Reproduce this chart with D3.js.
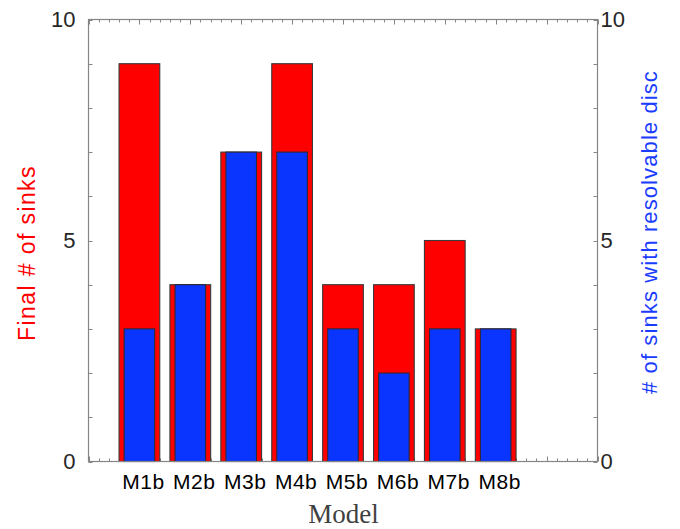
<!DOCTYPE html>
<html>
<head>
<meta charset="utf-8">
<script src="https://cdn.jsdelivr.net/npm/d3@7"></script>
<style>
  html, body { margin: 0; padding: 0; background: #fff; }
  svg { display: block; }
</style>
</head>
<body>
<svg id="chart" width="680" height="529"></svg>
<script>
// Sink counts per model
const models = ["M1b", "M2b", "M3b", "M4b", "M5b", "M6b", "M7b", "M8b"];
const finalSinks = [9, 4, 7, 9, 4, 4, 5, 3];
const sinksWithDisc = [3, 4, 7, 7, 3, 2, 3, 3];
const yTickLabels = [0, 5, 10];

const plotLeft = 88.5, plotRight = 597.5, plotTop = 19.5, plotBottom = 461.5;

const svg = d3.select("#chart");

// Models sit at integer positions 1..8 on a 0..10 axis
const x = d3.scaleLinear().domain([0, 10]).range([plotLeft, plotRight]);
const y = d3.scaleLinear().domain([0, 10]).range([plotBottom, plotTop]);

const axisColor = "#858585";
const textColor = "#262626";
const redFill = "#ff0000";
const blueFill = "#0a35ff";

const minorX = d3.range(0, 51).map(i => i / 5);
const minorY = d3.range(0, 11);

const g = svg.append("g");

// tick marks on all four sides, pointing inward
const ticks = g.append("g").attr("stroke", axisColor).attr("stroke-width", 1);
minorX.forEach(v => {
  const major = Math.abs(v - Math.round(v)) < 1e-9;
  const len = major ? 5 : 3;
  const px = Math.round(x(v)) + 0.5;
  ticks.append("line").attr("x1", px).attr("x2", px).attr("y1", plotTop).attr("y2", plotTop + len);
  ticks.append("line").attr("x1", px).attr("x2", px).attr("y1", plotBottom).attr("y2", plotBottom - len);
});
minorY.forEach(v => {
  const py = Math.round(y(v)) + 0.5;
  ticks.append("line").attr("x1", plotLeft).attr("x2", plotLeft + 4).attr("y1", py).attr("y2", py);
  ticks.append("line").attr("x1", plotRight).attr("x2", plotRight - 4).attr("y1", py).attr("y2", py);
});

// bars: red for final sink count, narrower blue for sinks with a resolvable disc
const bars = g.append("g");
bars.selectAll("rect.final")
  .data(finalSinks)
  .join("rect")
  .attr("class", "final")
  .attr("x", (d, i) => x(i + 1 - 0.4))
  .attr("width", x(0.8) - x(0))
  .attr("y", d => y(d))
  .attr("height", d => y(0) - y(d))
  .attr("fill", redFill)
  .attr("stroke", "#3a3a3a")
  .attr("stroke-width", 1.1);

bars.selectAll("rect.disc")
  .data(sinksWithDisc)
  .join("rect")
  .attr("class", "disc")
  .attr("x", (d, i) => x(i + 1 - 0.3))
  .attr("width", x(0.6) - x(0))
  .attr("y", d => y(d))
  .attr("height", d => y(0) - y(d))
  .attr("fill", blueFill)
  .attr("stroke", "#2a2a3a")
  .attr("stroke-width", 1.1);

// axes box
g.append("rect")
  .attr("x", plotLeft).attr("y", plotTop)
  .attr("width", plotRight - plotLeft).attr("height", plotBottom - plotTop)
  .attr("fill", "none")
  .attr("stroke", axisColor)
  .attr("stroke-width", 1.2);

const font = "'Liberation Sans', Arial, sans-serif";

// y tick labels on both sides
yTickLabels.forEach(v => {
  g.append("text")
    .attr("x", plotLeft - 13).attr("y", y(v))
    .attr("dy", "0.36em")
    .attr("text-anchor", "end")
    .attr("font-family", font).attr("font-size", 22)
    .attr("fill", textColor)
    .text(v);
  g.append("text")
    .attr("x", plotRight + 3).attr("y", y(v))
    .attr("dy", "0.36em")
    .attr("text-anchor", "start")
    .attr("font-family", font).attr("font-size", 22)
    .attr("fill", textColor)
    .text(v);
});

// model labels under the bars
models.forEach((m, i) => {
  g.append("text")
    .attr("x", x(i + 1) + 4).attr("y", 489)
    .attr("text-anchor", "middle")
    .attr("font-family", font).attr("font-size", 21)
    .attr("letter-spacing", 0.5)
    .attr("fill", "#000")
    .text(m);
});

// axis titles
g.append("text")
  .attr("transform", "translate(35, 253) rotate(-90)")
  .attr("text-anchor", "middle")
  .attr("font-family", font).attr("font-size", 23)
  .attr("letter-spacing", 1.4)
  .attr("fill", "#ff0000")
  .text("Final # of sinks");

g.append("text")
  .attr("transform", "translate(657, 232) rotate(-90)")
  .attr("text-anchor", "middle")
  .attr("font-family", font).attr("font-size", 22)
  .attr("letter-spacing", 1.1)
  .attr("fill", "#1a3cff")
  .text("# of sinks with resolvable disc");

g.append("text")
  .attr("x", 343.5).attr("y", 523)
  .attr("text-anchor", "middle")
  .attr("font-family", "'Liberation Serif', 'DejaVu Serif', serif")
  .attr("font-size", 27)
  .attr("fill", "#404040")
  .text("Model");
</script>
</body>
</html>
